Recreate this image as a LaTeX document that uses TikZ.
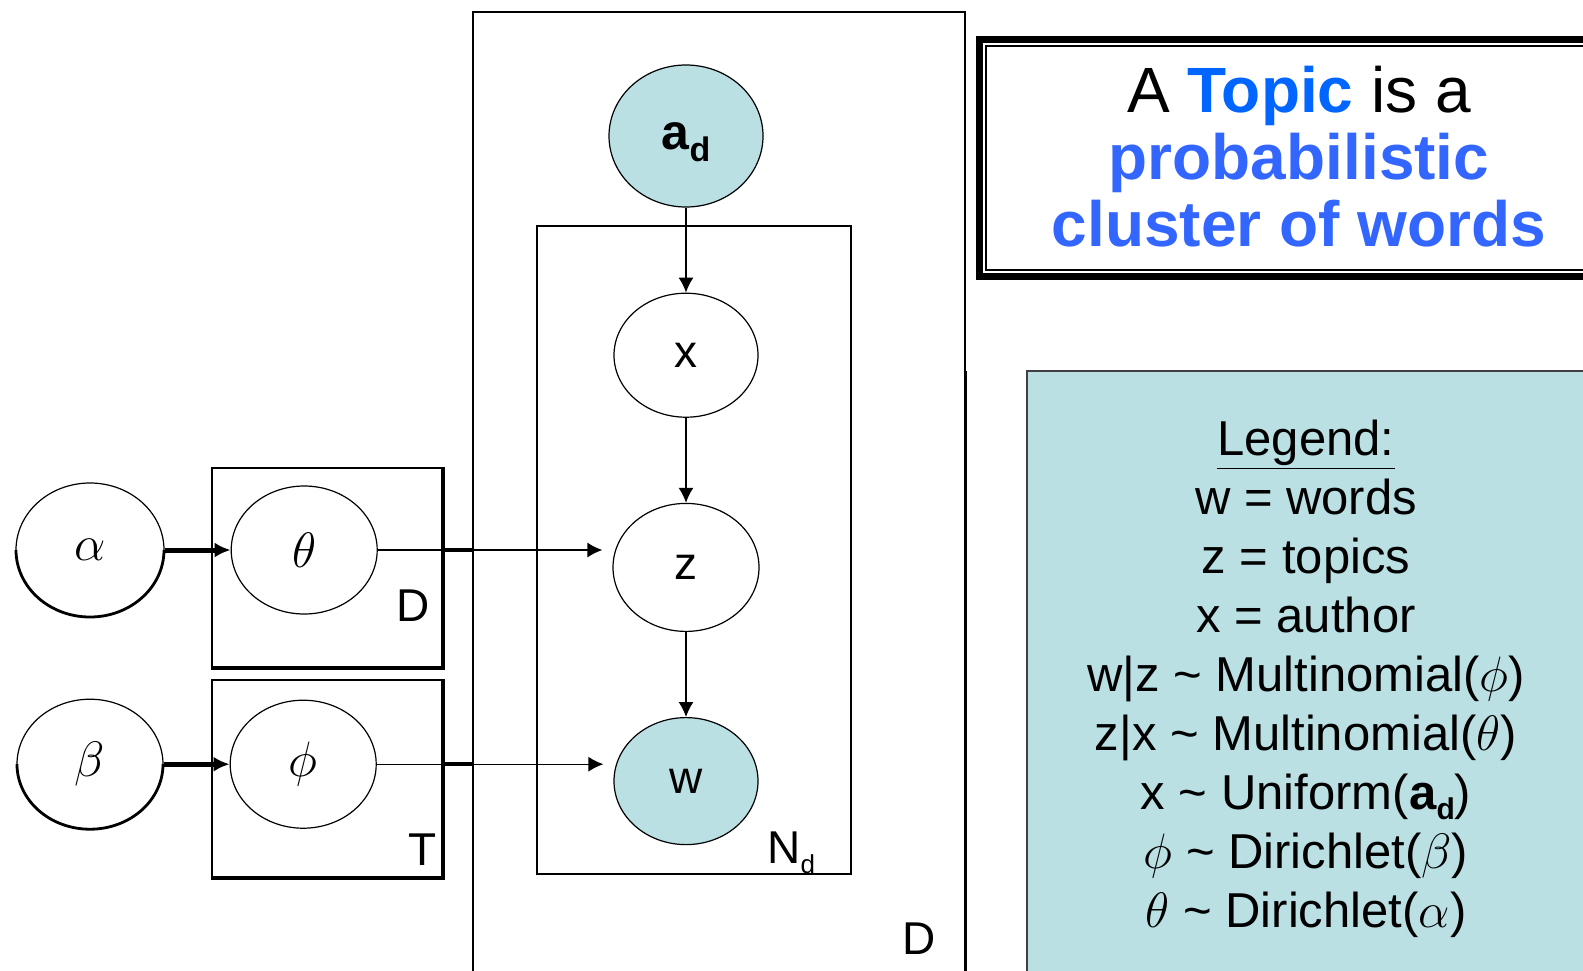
\documentclass[tikz,border=0pt]{standalone}
\usepackage{fontspec}
\setmainfont{Liberation Sans}
\usetikzlibrary{arrows.meta,positioning,shapes,calc}

\definecolor{obsblue}{RGB}{187,224,228}
\definecolor{topicblue}{RGB}{0,102,255}
\definecolor{clusterblue}{RGB}{51,102,255}

\newcommand{\nodefont}{\fontsize{23}{27}\selectfont}
\newcommand{\legendfont}{\fontsize{24.5}{29.5}\selectfont}
\newcommand{\titlefont}{\fontsize{32}{33.5}\selectfont}

\begin{document}
\begin{tikzpicture}[x=0.5pt, y=-0.5pt, % one unit per pixel, y pointing down
            node distance=42.5pt,
            >={Latex[length=7.5pt,width=7.5pt]},
            latent/.style={ellipse, draw, fill=white, line width=0.6pt, inner sep=0pt,
                minimum width=73pt, minimum height=64pt, font=\nodefont}, % random variables
            observed/.style={latent, fill=obsblue}, % shaded = observed
            plate/.style={draw, line width=0.7pt, inner sep=0pt},
            platelabel/.style={font=\nodefont, inner sep=0pt},
        ]
        \useasboundingbox (0,0) rectangle (1583,970);
        \clip (0,0) rectangle (1583,970);

        % plates
        \node[plate, minimum width=246pt, minimum height=499pt] (docplate) at (719,511) {};
        \node[plate, minimum width=157pt, minimum height=324pt] (wordplate) at (694,550) {};
        \node[plate, minimum width=115pt, minimum height=99.5pt] (thetaplate) at (327,567.5) {};
        \node[plate, minimum width=115pt, minimum height=98.5pt] (phiplate) at (327,778.5) {};
        \draw[line width=2pt] (thetaplate.north east) -- (thetaplate.south east) -- (thetaplate.south west);
        \draw[line width=2pt] (phiplate.north east) -- (phiplate.south east) -- (phiplate.south west);
        \draw[line width=1.5pt] (docplate.east |- 0,371) -- (docplate.south east);

        \node[platelabel] (dlabel) at (413,606) {D};
        \node[platelabel] (tlabel) at (423,850) {T};
        \node[platelabel, anchor=base west] (ndlabel) at (767,863) {N\raisebox{-5pt}{\fontsize{13}{13}\selectfont d}};
        \node[platelabel] (docdlabel) at (919,939) {D};

        % hyperparameters and per-document / per-topic parameters
        \node[latent, minimum width=74pt, minimum height=67pt] (alpha) at (90,550) {$\alpha$};
        \node[latent, right=33pt of alpha] (theta) {$\theta$};
        \node[latent, minimum height=65pt, below=40.5pt of alpha] (beta) {$\beta$};
        \node[latent, right=33pt of beta] (phi) {$\phi$};
        \draw[line width=1.4pt] (alpha.center) ++(0:74 and 67) arc[start angle=0, end angle=180, x radius=74, y radius=67];
        \draw[line width=1.4pt] (beta.center) ++(0:73 and 65) arc[start angle=0, end angle=180, x radius=73, y radius=65];

        % author-topic chain
        \node[observed, minimum width=77pt, minimum height=71pt, text depth=0pt,
            font=\fontsize{25}{29}\selectfont\bfseries] (ad) at (686,136)
            {a\raisebox{-6pt}{\fontsize{17}{17}\selectfont d}};
        \node[latent, minimum width=72pt, minimum height=62pt, below=of ad] (x) {x};
        \node[latent, below=of x] (z) {z};
        \node[observed, minimum width=72pt, minimum height=63.5pt, below=of z] (w) {w};

        \draw[->, line width=0.7pt] (ad) -- (x);
        \draw[->, line width=0.7pt] (x) -- (z);
        \draw[->, line width=0.7pt] (z) -- (w);

        \draw[->, line width=2.5pt, >={Latex[length=8pt,width=7.5pt]}] (alpha) -- (theta);
        \draw[->, line width=2.5pt, >={Latex[length=8pt,width=7.5pt]}] (beta) -- (phi);

        \draw[->, line width=0.7pt, shorten >=5pt] (theta) -- (theta -| z.west);
        \draw[->, line width=0.7pt, shorten >=5pt] (phi) -- (phi -| w.west);
        \draw[line width=2pt] (theta -| thetaplate.east) -- (theta -| docplate.west);
        \draw[line width=2pt] (phi -| phiplate.east) -- (phi -| docplate.west);

        % title box
        \draw[line width=3.5pt] (979.5,39.5) rectangle (1650,276);
        \draw[line width=0.8pt] (986,46) rectangle (1650,270);
        \node[align=center, font=\titlefont] (title) at (1299,157)
            {A \textcolor{topicblue}{\bfseries Topic} is a\\
             \textcolor{clusterblue}{\bfseries probabilistic}\\
             \textcolor{clusterblue}{\bfseries cluster of words}};

        % legend
        \draw[fill=obsblue, draw=black!75, line width=1pt] (1027,371) rectangle (1650,1000);
        \node[align=center, font=\legendfont] (legend) at (1306,679)
            {\underline{Legend:}\\
             w = words\\
             z = topics\\
             x = author\\
             w|z \textasciitilde{} Multinomial($\phi$)\\
             z|x \textasciitilde{} Multinomial($\theta$)\\
             x \textasciitilde{} Uniform(\textbf{a}\raisebox{-5pt}{\fontsize{15}{15}\selectfont\bfseries d})\\
             $\phi$ \textasciitilde{} Dirichlet($\beta$)\\
             $\theta$ \textasciitilde{} Dirichlet($\alpha$)};
    \end{tikzpicture}
\end{document}
